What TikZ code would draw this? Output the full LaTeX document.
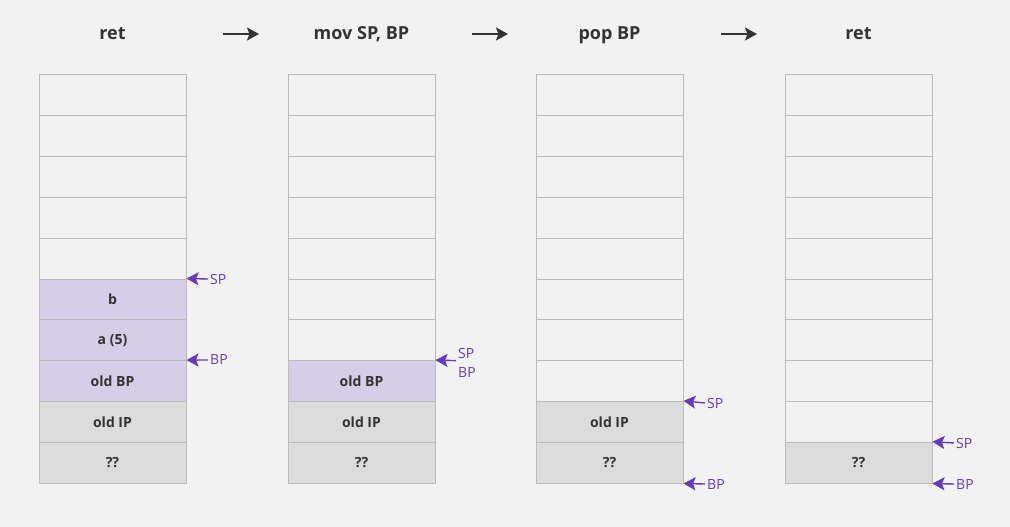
\documentclass[tikz,border=0pt]{standalone}
\usepackage{fontspec}
\setmainfont{Open Sans}
\usepackage{tikz}
\usetikzlibrary{arrows.meta}
\definecolor{bgcol}{HTML}{F2F2F2}
\definecolor{edgecol}{HTML}{BBBBBB}
\definecolor{lilac}{HTML}{D6CDE6}
\definecolor{greycell}{HTML}{DCDCDC}
\definecolor{ptrcol}{HTML}{673AB7}
\definecolor{txtcol}{HTML}{333333}
\begin{document}
\begin{tikzpicture}[x=1pt,y=-1pt]
\tikzset{cell/.style={draw=edgecol,line width=1pt,fill=bgcol,minimum width=147pt,minimum height=40.8pt,inner sep=0pt,
  text=txtcol,font=\fontsize{14}{16}\selectfont\bfseries},
  framecell/.style={cell,fill=lilac},
  oldcell/.style={cell,fill=greycell},
  title/.style={text=txtcol,anchor=base,font=\fontsize{18}{20}\selectfont\bfseries},
  ptr/.style={text=ptrcol,inner sep=2pt,anchor=west,font=\fontsize{14}{16}\selectfont},
  ptrarrow/.style={draw=ptrcol,line width=1.4pt,-{Stealth[length=12pt,width=13pt,inset=2.5pt]}},
  steparrow/.style={draw=txtcol,line width=2.4pt,-{Stealth[length=12pt,width=13pt,inset=2.5pt]}}}
\useasboundingbox [fill=bgcol] (0,0) rectangle (1010,527);
% titles
\node[title] (t1) at (112.5,40) {ret};
\node[title] (t2) at (361.5,40) {mov SP, BP};
\node[title] (t3) at (609.5,40) {pop BP};
\node[title] (t4) at (858.5,40) {ret};
\coordinate (g1a) at (223,34); \coordinate (g1b) at (259,34);
\coordinate (g2a) at (472,34); \coordinate (g2b) at (508,34);
\coordinate (g3a) at (721,34); \coordinate (g3b) at (757,34);
\draw[steparrow] (g1a) -- (g1b);
\draw[steparrow] (g2a) -- (g2b);
\draw[steparrow] (g3a) -- (g3b);
% stack 1: ret
\foreach \i in {1,...,5}
  \node[cell] (ret\i) at (112.5,{75+40.8*(\i-0.5)}) {};
\node[framecell] (ret6) at (112.5,{75+40.8*5.5}) {b};
\node[framecell] (ret7) at (112.5,{75+40.8*6.5}) {a (5)};
\node[framecell] (ret8) at (112.5,{75+40.8*7.5}) {old BP};
\node[oldcell] (ret9) at (112.5,{75+40.8*8.5}) {old IP};
\node[oldcell] (ret10) at (112.5,{75+40.8*9.5}) {??};
\node[ptr] (sp1) at (208,279) {SP};
\node[ptr] (bp1) at (208,360) {BP};
\draw[ptrarrow] (sp1.west) -- (ret6.north east);
\draw[ptrarrow] (bp1.west) -- (ret8.north east);
% stack 2: mov SP, BP
\foreach \i in {1,...,7}
  \node[cell] (mov\i) at (361.5,{75+40.8*(\i-0.5)}) {};
\node[framecell] (mov8) at (361.5,{75+40.8*7.5}) {old BP};
\node[oldcell] (mov9) at (361.5,{75+40.8*8.5}) {old IP};
\node[oldcell] (mov10) at (361.5,{75+40.8*9.5}) {??};
\coordinate (spbp2) at (456,{75+40.8*7});
\node[ptr] (sp2) at (456,353) {SP};
\node[ptr] (bp2) at (456,373) {BP};
\draw[ptrarrow] (spbp2) -- (mov8.north east);
% stack 3: pop BP
\foreach \i in {1,...,8}
  \node[cell] (pop\i) at (609.5,{75+40.8*(\i-0.5)}) {};
\node[oldcell] (pop9) at (609.5,{75+40.8*8.5}) {old IP};
\node[oldcell] (pop10) at (609.5,{75+40.8*9.5}) {??};
\node[ptr] (sp3) at (705,403) {SP};
\node[ptr] (bp3) at (705,484) {BP};
\draw[ptrarrow] (sp3.west) -- (pop9.north east);
\draw[ptrarrow] (bp3.west) -- (pop10.south east);
% stack 4: ret
\foreach \i in {1,...,9}
  \node[cell] (rtn\i) at (858.5,{75+40.8*(\i-0.5)}) {};
\node[oldcell] (rtn10) at (858.5,{75+40.8*9.5}) {??};
\node[ptr] (sp4) at (954,443) {SP};
\node[ptr] (bp4) at (954,484) {BP};
\draw[ptrarrow] (sp4.west) -- (rtn10.north east);
\draw[ptrarrow] (bp4.west) -- (rtn10.south east);
\end{tikzpicture}
\end{document}
